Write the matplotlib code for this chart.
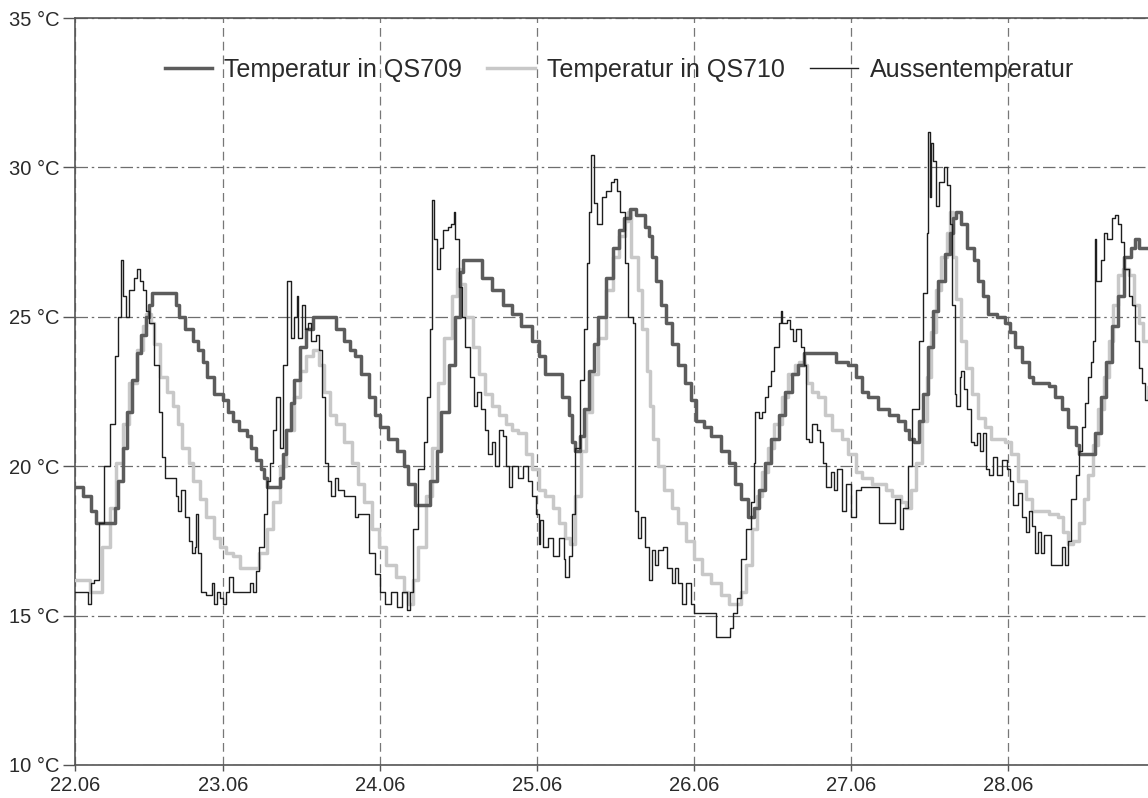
import matplotlib
matplotlib.use("Agg")
import matplotlib.pyplot as plt
from matplotlib.lines import Line2D

plt.rcParams['font.family'] = ['Liberation Sans', 'DejaVu Sans']

# -------------------DATA (days since 22.06 00:00, temperature in degC)--------------------

# outside temperature (thin black line)
aussen_t = [0.05, 0.13, 0.14, 0.16, 0.18, 0.21, 0.24, 0.28, 0.31, 0.33, 0.35, 0.36, 0.38, 0.40, 0.43, 0.45,
            0.47, 0.49, 0.51, 0.53, 0.56, 0.59, 0.61, 0.63, 0.68, 0.70, 0.71, 0.73, 0.76, 0.78, 0.80, 0.82,
            0.83, 0.84, 0.86, 0.89, 0.93, 0.94, 0.96, 0.98, 1.00, 1.02, 1.04, 1.06, 1.15, 1.17, 1.19, 1.21,
            1.23, 1.26, 1.28, 1.30, 1.32, 1.34, 1.36, 1.38, 1.41, 1.43, 1.45, 1.47, 1.48, 1.50, 1.52, 1.54,
            1.56, 1.59, 1.61, 1.63, 1.65, 1.67, 1.69, 1.71, 1.73, 1.77, 1.84, 1.86, 1.93, 1.97, 2.00, 2.03,
            2.07, 2.11, 2.14, 2.17, 2.19, 2.21, 2.24, 2.28, 2.30, 2.32, 2.33, 2.34, 2.36, 2.38, 2.40, 2.43,
            2.45, 2.47, 2.48, 2.50, 2.52, 2.54, 2.57, 2.60, 2.62, 2.64, 2.67, 2.69, 2.71, 2.73, 2.76, 2.78,
            2.80, 2.82, 2.84, 2.88, 2.91, 2.94, 2.97, 2.99, 3.01, 3.02, 3.04, 3.07, 3.10, 3.14, 3.17, 3.18,
            3.20, 3.22, 3.24, 3.27, 3.30, 3.32, 3.33, 3.34, 3.36, 3.38, 3.41, 3.44, 3.47, 3.49, 3.51, 3.53,
            3.56, 3.58, 3.61, 3.62, 3.64, 3.66, 3.69, 3.71, 3.73, 3.75, 3.77, 3.80, 3.83, 3.86, 3.88, 3.90,
            3.92, 3.95, 3.98, 4.00, 4.11, 4.14, 4.22, 4.23, 4.25, 4.27, 4.30, 4.33, 4.36, 4.38, 4.39, 4.41,
            4.43, 4.45, 4.47, 4.49, 4.51, 4.54, 4.55, 4.56, 4.59, 4.61, 4.63, 4.65, 4.68, 4.70, 4.71, 4.73,
            4.75, 4.78, 4.80, 4.82, 4.84, 4.87, 4.89, 4.91, 4.94, 4.97, 5.00, 5.03, 5.06, 5.16, 5.18, 5.26,
            5.28, 5.31, 5.33, 5.36, 5.39, 5.43, 5.46, 5.48, 5.49, 5.50, 5.51, 5.52, 5.54, 5.56, 5.59, 5.61,
            5.63, 5.64, 5.66, 5.67, 5.69, 5.70, 5.72, 5.74, 5.76, 5.78, 5.80, 5.82, 5.84, 5.86, 5.88, 5.90,
            5.93, 5.96, 5.99, 6.01, 6.03, 6.06, 6.09, 6.11, 6.13, 6.15, 6.17, 6.19, 6.21, 6.23, 6.27, 6.32,
            6.34, 6.36, 6.38, 6.40, 6.43, 6.45, 6.47, 6.49, 6.51, 6.53, 6.54, 6.55, 6.56, 6.59, 6.61, 6.63,
            6.66, 6.68, 6.70, 6.72, 6.74, 6.77, 6.79, 6.81, 6.83, 6.85, 6.87, 6.89]
aussen_T = [15.8, 15.8, 15.4, 16.1, 16.2, 18.1, 20.0, 21.4, 23.7, 25.0, 26.9, 25.7, 25.0, 25.9, 26.3, 26.6,
            26.2, 25.9, 25.2, 24.8, 23.4, 21.8, 20.3, 19.6, 19.6, 19.0, 18.5, 19.2, 18.3, 17.5, 17.1, 17.3,
            18.4, 17.1, 15.8, 15.7, 16.1, 15.4, 15.8, 15.6, 15.4, 15.8, 16.3, 15.8, 15.8, 16.1, 15.8, 16.5,
            17.3, 18.4, 19.5, 20.1, 21.2, 22.3, 20.6, 23.4, 26.2, 24.3, 25.0, 25.7, 24.3, 25.4, 24.6, 24.8,
            24.2, 24.4, 23.9, 22.3, 20.1, 19.5, 19.0, 19.6, 19.2, 19.0, 18.3, 18.4, 17.1, 16.4, 15.8, 15.4,
            15.8, 15.3, 15.8, 15.2, 15.8, 17.9, 19.9, 20.8, 22.3, 24.6, 28.9, 27.6, 26.6, 27.3, 27.9, 28.0,
            28.1, 28.5, 27.6, 26.0, 25.0, 24.0, 23.0, 22.0, 22.5, 21.9, 21.2, 20.4, 20.8, 20.0, 21.2, 21.0,
            20.0, 19.3, 20.0, 19.6, 20.0, 19.5, 19.0, 18.4, 17.4, 18.2, 17.3, 17.6, 17.0, 17.6, 16.9, 16.3,
            17.0, 18.4, 20.6, 22.9, 24.6, 26.8, 28.5, 30.4, 28.8, 28.1, 29.0, 29.2, 29.5, 29.6, 29.2, 28.5,
            26.8, 25.0, 24.8, 18.5, 17.6, 18.3, 17.3, 16.2, 17.2, 16.7, 17.2, 17.3, 16.6, 16.1, 16.6, 16.1,
            15.4, 16.1, 15.4, 15.1, 15.1, 14.3, 14.3, 14.6, 15.1, 15.6, 16.9, 17.9, 18.8, 20.1, 21.8, 21.6,
            21.8, 22.3, 22.7, 23.2, 24.0, 24.8, 25.2, 24.8, 24.9, 24.6, 24.2, 24.6, 24.0, 23.4, 20.9, 20.8,
            21.4, 21.2, 20.8, 20.1, 19.3, 19.8, 19.2, 19.9, 18.5, 19.4, 18.3, 19.2, 19.3, 19.3, 18.1, 18.1,
            18.9, 17.9, 18.6, 20.0, 21.9, 24.2, 25.8, 27.8, 31.2, 29.0, 30.8, 30.2, 28.7, 29.5, 30.0, 29.4,
            28.1, 25.4, 22.4, 22.0, 23.0, 23.2, 22.6, 21.9, 20.8, 20.7, 21.1, 20.5, 21.1, 19.9, 19.7, 20.3,
            19.7, 20.2, 19.9, 19.5, 18.7, 19.1, 18.3, 17.8, 18.5, 18.0, 17.1, 17.8, 17.1, 17.7, 16.7, 16.7,
            17.3, 16.7, 17.5, 18.9, 19.7, 20.5, 21.3, 22.1, 23.0, 23.5, 24.2, 27.6, 26.2, 26.9, 27.8, 27.6,
            28.3, 28.4, 28.1, 27.5, 26.6, 25.7, 25.4, 24.2, 23.3, 22.8, 22.2, 22.7]

# room QS709 (medium grey, slow)
qs709_t = [0.05, 0.11, 0.16, 0.19, 0.29, 0.31, 0.33, 0.36, 0.39, 0.42, 0.45, 0.48, 0.51, 0.53, 0.55, 0.66,
           0.70, 0.72, 0.76, 0.81, 0.84, 0.87, 0.90, 0.94, 1.00, 1.03, 1.06, 1.10, 1.15, 1.18, 1.21, 1.24,
           1.26, 1.28, 1.34, 1.36, 1.38, 1.40, 1.43, 1.45, 1.49, 1.53, 1.57, 1.66, 1.72, 1.77, 1.81, 1.84,
           1.88, 1.93, 1.97, 2.00, 2.05, 2.11, 2.15, 2.18, 2.22, 2.29, 2.32, 2.36, 2.39, 2.44, 2.48, 2.51,
           2.53, 2.61, 2.65, 2.71, 2.78, 2.84, 2.90, 2.97, 3.01, 3.05, 3.12, 3.16, 3.20, 3.22, 3.24, 3.27,
           3.30, 3.33, 3.36, 3.39, 3.44, 3.48, 3.52, 3.55, 3.59, 3.63, 3.69, 3.71, 3.73, 3.76, 3.79, 3.82,
           3.86, 3.90, 3.94, 3.98, 4.01, 4.06, 4.11, 4.17, 4.22, 4.26, 4.30, 4.34, 4.38, 4.41, 4.45, 4.49,
           4.54, 4.58, 4.62, 4.66, 4.70, 4.86, 4.90, 4.98, 5.03, 5.07, 5.11, 5.17, 5.24, 5.30, 5.34, 5.37,
           5.40, 5.43, 5.46, 5.49, 5.52, 5.55, 5.60, 5.63, 5.65, 5.67, 5.70, 5.74, 5.78, 5.81, 5.84, 5.87,
           5.93, 5.98, 6.01, 6.04, 6.09, 6.13, 6.16, 6.21, 6.26, 6.30, 6.34, 6.38, 6.43, 6.45, 6.53, 6.55,
           6.59, 6.62, 6.66, 6.70, 6.74, 6.78, 6.81, 6.83, 6.90]
qs709_T = [19.3, 19.0, 18.5, 18.1, 18.1, 18.6, 19.5, 20.6, 21.8, 22.9, 23.8, 24.4, 25.0, 25.4, 25.8, 25.8,
           25.4, 25.0, 24.6, 24.2, 23.9, 23.5, 23.0, 22.4, 22.2, 21.8, 21.5, 21.2, 21.0, 20.6, 20.2, 19.9,
           19.6, 19.3, 19.3, 19.6, 20.4, 21.2, 22.1, 22.9, 24.0, 24.6, 25.0, 25.0, 24.6, 24.2, 23.9, 23.7,
           23.1, 22.3, 21.7, 21.3, 20.9, 20.5, 20.0, 19.4, 18.7, 18.7, 19.5, 20.5, 21.8, 23.4, 25.0, 26.5,
           26.9, 26.9, 26.3, 25.9, 25.4, 25.1, 24.7, 24.2, 23.7, 23.1, 23.1, 22.3, 21.7, 20.8, 20.5, 21.0,
           21.9, 23.2, 24.1, 25.0, 26.3, 27.3, 27.9, 28.3, 28.6, 28.4, 28.0, 27.7, 27.0, 26.2, 25.4, 24.8,
           24.1, 23.4, 22.8, 22.2, 21.5, 21.3, 21.0, 20.5, 20.1, 19.4, 18.9, 18.3, 18.6, 19.2, 20.1, 20.9,
           21.7, 22.5, 23.1, 23.4, 23.8, 23.8, 23.5, 23.4, 23.0, 22.5, 22.3, 21.9, 21.7, 21.5, 21.2, 20.9,
           20.8, 21.5, 22.4, 24.0, 25.2, 26.2, 27.1, 27.8, 28.3, 28.5, 28.1, 27.3, 26.9, 26.2, 25.7, 25.1,
           25.0, 24.8, 24.5, 24.0, 23.5, 23.0, 22.8, 22.8, 22.7, 22.3, 21.9, 21.3, 20.7, 20.4, 20.4, 21.1,
           22.3, 23.5, 24.7, 25.7, 27.0, 27.3, 27.6, 27.3, 27.3]

# room QS710 (light grey)
qs710_t = [0.05, 0.12, 0.15, 0.19, 0.23, 0.28, 0.32, 0.36, 0.40, 0.45, 0.49, 0.51, 0.54, 0.56, 0.60, 0.64,
           0.68, 0.71, 0.74, 0.78, 0.81, 0.85, 0.89, 0.94, 0.98, 1.02, 1.06, 1.11, 1.19, 1.23, 1.28, 1.32,
           1.36, 1.40, 1.45, 1.49, 1.53, 1.57, 1.61, 1.64, 1.68, 1.72, 1.77, 1.82, 1.86, 1.90, 1.95, 1.99,
           2.04, 2.10, 2.15, 2.18, 2.21, 2.24, 2.29, 2.33, 2.37, 2.41, 2.46, 2.49, 2.51, 2.54, 2.59, 2.63,
           2.67, 2.71, 2.76, 2.80, 2.84, 2.88, 2.93, 2.97, 3.01, 3.05, 3.10, 3.14, 3.18, 3.21, 3.24, 3.28,
           3.31, 3.35, 3.39, 3.44, 3.48, 3.52, 3.56, 3.58, 3.60, 3.64, 3.67, 3.70, 3.72, 3.74, 3.77, 3.81,
           3.86, 3.90, 3.95, 4.00, 4.05, 4.11, 4.17, 4.22, 4.27, 4.30, 4.33, 4.37, 4.40, 4.43, 4.47, 4.51,
           4.56, 4.60, 4.64, 4.67, 4.70, 4.72, 4.75, 4.79, 4.83, 4.88, 4.94, 4.98, 5.03, 5.07, 5.13, 5.22,
           5.26, 5.32, 5.35, 5.38, 5.41, 5.45, 5.48, 5.51, 5.54, 5.57, 5.61, 5.63, 5.65, 5.67, 5.70, 5.73,
           5.77, 5.81, 5.85, 5.89, 5.98, 6.02, 6.06, 6.11, 6.15, 6.26, 6.32, 6.35, 6.38, 6.41, 6.45, 6.48,
           6.51, 6.54, 6.57, 6.61, 6.64, 6.67, 6.70, 6.73, 6.77, 6.80, 6.83, 6.86, 6.90]
qs710_T = [16.2, 16.2, 15.8, 15.8, 17.3, 18.6, 20.1, 21.4, 22.8, 23.9, 24.7, 25.1, 24.8, 24.1, 23.0, 22.5,
           22.0, 21.4, 20.6, 20.1, 19.5, 18.9, 18.3, 17.6, 17.3, 17.1, 17.0, 16.6, 16.6, 17.1, 17.9, 18.8,
           20.0, 21.2, 22.3, 23.2, 23.7, 23.9, 23.4, 22.5, 21.7, 21.4, 20.8, 20.1, 19.4, 18.8, 17.9, 17.3,
           16.7, 16.3, 15.8, 15.4, 16.2, 17.3, 19.0, 20.6, 22.8, 24.3, 25.7, 26.6, 26.1, 25.0, 24.0, 23.1,
           22.4, 22.0, 21.7, 21.4, 21.2, 21.1, 20.4, 19.9, 19.2, 19.0, 18.6, 18.1, 17.6, 17.4, 19.0, 20.5,
           21.8, 23.1, 24.3, 25.9, 27.0, 27.7, 28.2, 28.5, 27.0, 25.9, 24.6, 23.2, 22.0, 20.9, 20.0, 19.2,
           18.6, 18.1, 17.5, 16.9, 16.4, 16.1, 15.7, 15.4, 15.4, 15.8, 16.7, 17.9, 19.0, 19.8, 20.6, 21.4,
           22.3, 23.1, 23.4, 23.5, 23.4, 22.8, 22.5, 22.3, 21.7, 21.2, 20.9, 20.4, 19.8, 19.6, 19.4, 19.2,
           19.0, 18.8, 18.6, 19.2, 20.1, 21.5, 23.0, 24.5, 25.9, 27.0, 27.8, 28.5, 27.0, 25.6, 24.2, 23.3,
           22.4, 21.6, 21.3, 20.9, 20.8, 20.4, 19.5, 18.9, 18.5, 18.4, 18.3, 17.8, 17.4, 17.5, 18.1, 18.9,
           19.7, 20.7, 21.9, 23.0, 24.2, 25.4, 26.4, 26.6, 26.4, 25.4, 24.8, 24.2, 24.0]

day_labels = ['22.06', '23.06', '24.06', '25.06', '26.06', '27.06', '28.06']
temp_ticks = [10, 15, 20, 25, 30, 35]
series_labels = ['Temperatur in QS709', 'Temperatur in QS710', 'Aussentemperatur']

# -------------------PLOT--------------------
x_start, x_end = 0.057, 6.89

fig = plt.figure(figsize=(11.48, 7.98), dpi=100)
ax = fig.add_axes([75/1148, 33/798, 1 - 75/1148, 747/798])

c709, c710, caus = '#5c5c5c', '#c8c8c8', '#1e1e1e'
ax.plot(qs710_t, qs710_T, drawstyle='steps-post', color=c710, lw=2.5, zorder=3)
ax.plot(qs709_t, qs709_T, drawstyle='steps-post', color=c709, lw=2.5, zorder=4)
ax.plot(aussen_t, aussen_T, drawstyle='steps-post', color=caus, lw=1.0, zorder=5)

ax.set_xlim(x_start, x_end)
ax.set_ylim(10, 35)
ax.set_xticks([x_start] + list(range(1, 7)))
ax.set_xticklabels(day_labels)
ax.set_yticks(temp_ticks)
ax.set_yticklabels([f'{v} °C' for v in temp_ticks])

ax.xaxis.grid(True, color='#777777', lw=0.9, linestyle=(0, (7, 4)))
ax.yaxis.grid(True, color='#6e6e6e', lw=0.9, linestyle=(0, (10, 3, 2, 3)))
ax.set_axisbelow(True)

for s in ['left', 'bottom', 'top']:
    ax.spines[s].set_color('#555555')
    ax.spines[s].set_linewidth(1.2)
ax.spines['right'].set_visible(False)

ax.tick_params(axis='y', length=9, width=1, color='#555555', pad=2, labelsize=14.5, labelcolor='#2a2a2a')
ax.tick_params(axis='x', length=4, width=1, color='#555555', pad=4, labelsize=14.5, labelcolor='#2a2a2a')

handles = [Line2D([], [], color=c709, lw=2.5),
           Line2D([], [], color=c710, lw=2.5),
           Line2D([], [], color=caus, lw=1.0)]
leg = fig.legend(handles, series_labels, ncol=3, loc='center left',
                 bbox_to_anchor=(152/1148, 1 - 70/798), frameon=False, fontsize=18,
                 handlelength=1.9, handletextpad=0.5, columnspacing=1.0, borderpad=0)
for t in leg.get_texts():
    t.set_color('#2a2a2a')

plt.savefig('out.png', dpi=100)
plt.close()
